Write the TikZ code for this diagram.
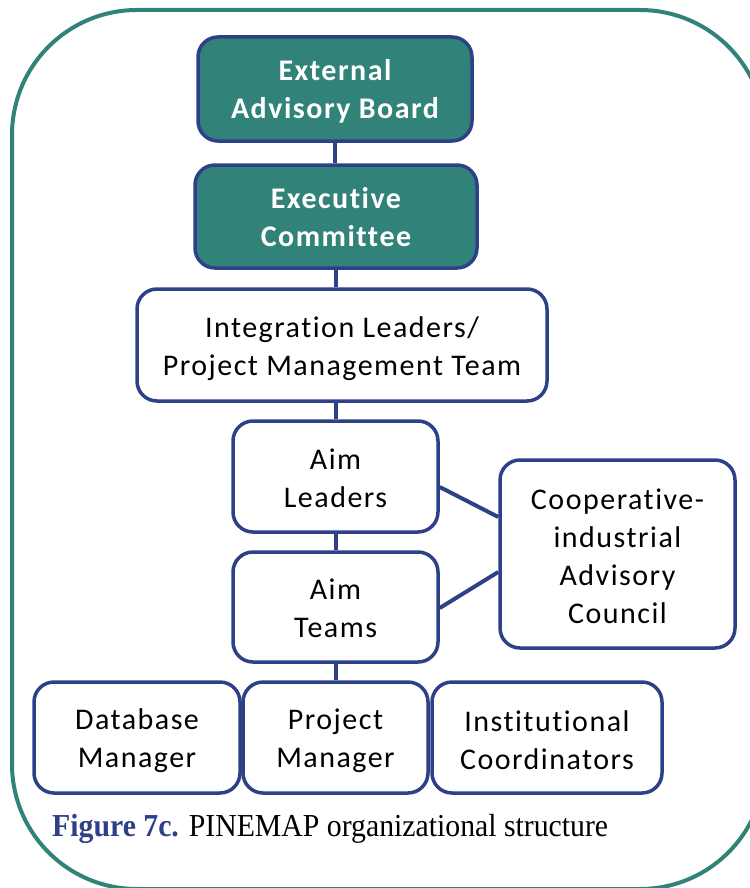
\documentclass[tikz,border=0pt]{standalone}
\usepackage{fontspec}
\setmainfont{Carlito}[Ligatures=NoCommon, LetterSpace=5]
\newfontfamily\capfont{Liberation Serif}[FakeStretch=0.93]
\usetikzlibrary{calc}
\definecolor{teal1}{RGB}{49,130,120}
\definecolor{navy1}{RGB}{46,64,135}
\tikzset{
  box/.style={draw=navy1, line width=3.5pt, rounded corners=20pt, fill=white, inner sep=0pt},
  tealbox/.style={box, fill=teal1},
  boxtext/.style={align=center, inner sep=0pt, font=\fontsize{30}{38}\selectfont},
  tealtext/.style={boxtext, text=white, font=\fontsize{30}{38}\selectfont\bfseries},
  link/.style={draw=navy1, line width=4pt}
}
\begin{document}
\begin{tikzpicture}[x=1pt,y=-1pt]
\useasboundingbox (0,0) rectangle (749,888);
\draw[teal1, line width=4pt, rounded corners=125pt] (12,10) rectangle (765,889);
% boxes
\node[tealbox, minimum width=274pt, minimum height=104pt] (eab) at (335,89) {};
\node[tealbox, minimum width=282pt, minimum height=103pt] (ec) at (336,216.5) {};
\node[box, minimum width=410pt, minimum height=112pt] (int) at (342,345) {};
\node[box, minimum width=205pt, minimum height=111pt] (aiml) at (335.5,476.5) {};
\node[box, minimum width=205pt, minimum height=110pt] (aimt) at (335.5,607) {};
\node[box, minimum width=235pt, minimum height=188pt] (coun) at (617.5,554) {};
\node[box, minimum width=206pt, minimum height=111pt] (db) at (137,737.5) {};
\node[box, minimum width=185pt, minimum height=111pt] (pm) at (335.5,737.5) {};
\node[box, minimum width=230pt, minimum height=111pt] (ic) at (547,737.5) {};
% texts
\node[tealtext] (t-eab) at ([yshift=-2.5pt]eab.center) {External\\Advisory Board};
\node[tealtext] (t-ec) at ([yshift=-1pt]ec.center) {Executive\\Committee};
\node[boxtext] (t-int) at ([yshift=-4pt]int.center) {Integration Leaders/\\Project Management Team};
\node[boxtext] (t-aiml) at ([yshift=-2pt]aiml.center) {Aim\\Leaders};
\node[boxtext] (t-aimt) at ([yshift=-1.5pt]aimt.center) {Aim\\Teams};
\node[boxtext] (t-coun) at ([yshift=-2.5pt]coun.center) {Cooperative-\\industrial\\Advisory\\Council};
\node[boxtext] (t-db) at ([yshift=-3.5pt]db.center) {Database\\Manager};
\node[boxtext] (t-pm) at ([yshift=-3.5pt]pm.center) {Project\\Manager};
\node[boxtext] (t-ic) at ([yshift=-3pt]ic.center) {Institutional\\Coordinators};
% connectors
\draw[link] (eab.south) -- (ec.north -| eab.south);
\draw[link] (ec.south) -- (int.north -| ec.south);
\draw[link] (int.south -| aiml.north) -- (aiml.north);
\draw[link] (aiml.south) -- (aimt.north);
\draw[link] (aimt.south) -- (pm.north);
\draw[link] ([yshift=-10.5pt]aiml.east) -- ([yshift=37pt]coun.west);
\draw[link] ([yshift=-1pt]aimt.east) -- ([yshift=-18pt]coun.west);
% caption
\node[anchor=base west, inner sep=0pt, font=\capfont\fontsize{32}{36}\selectfont] (cap) at (52,836)
  {\textcolor{navy1}{\bfseries Figure 7c.} PINEMAP organizational structure};
\end{tikzpicture}
\end{document}
